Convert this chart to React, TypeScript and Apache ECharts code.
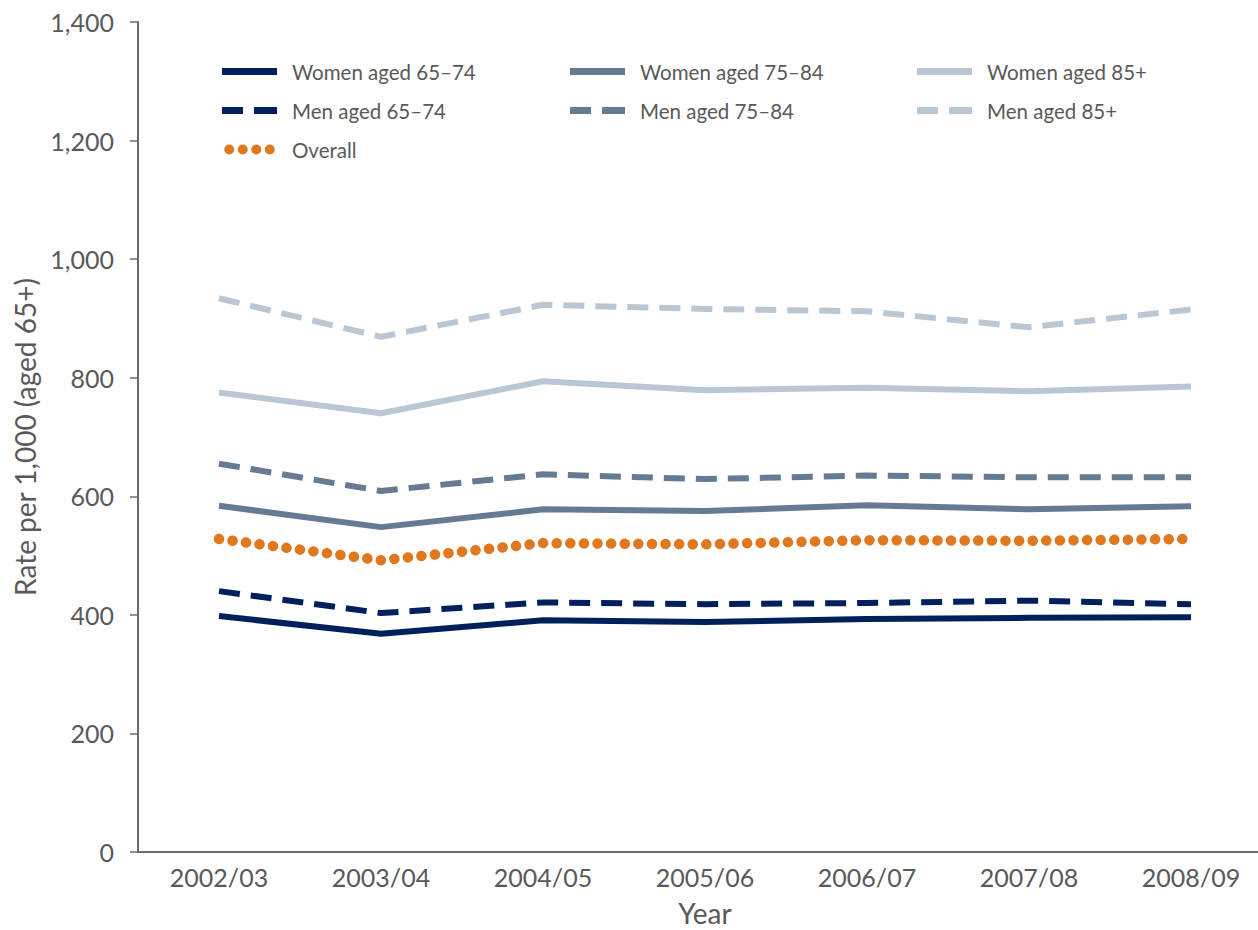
import React, { useEffect, useRef } from "react";
import * as echarts from "echarts";

const categories = ["2002/03", "2003/04", "2004/05", "2005/06", "2006/07", "2007/08", "2008/09"];
const women6574 = [398, 368, 391, 388, 393, 395, 396];
const men6574 = [440, 403, 421, 418, 420, 424, 418];
const overall = [528, 492, 521, 519, 526, 525, 528];
const women7584 = [584, 548, 578, 575, 585, 578, 583];
const men7584 = [655, 609, 637, 629, 635, 632, 632];
const women85 = [775, 740, 794, 779, 783, 777, 785];
const men85 = [934, 869, 923, 916, 912, 885, 915];

const NAVY = "#00205b";
const MID = "#657a93";
const LIGHT = "#b9c7d5";
const ORANGE = "#e0781f";
const TEXT = "#595959";
const AXIS = "#6b6b6b";
const FONT = "Lato";

const ICON_SOLID = "path://M0,1.5H55V8.5H0Z";
const ICON_DASH = "path://M0,1.5H21V8.5H0Z M32,1.5H55V8.5H32Z";
const ICON_DOTS =
  "path://M0,5a5,5 0 1,0 10,0a5,5 0 1,0 -10,0Z M13.5,5a5,5 0 1,0 10,0a5,5 0 1,0 -10,0Z M27,5a5,5 0 1,0 10,0a5,5 0 1,0 -10,0Z M40.5,5a5,5 0 1,0 10,0a5,5 0 1,0 -10,0Z";

export default function App() {
  const ref = useRef<HTMLDivElement>(null);
  useEffect(() => {
    if (!ref.current) return;
    const chart = echarts.init(ref.current, undefined, { renderer: "svg" });
    const line = (name: string, data: number[], color: string, type: any, width = 6, cap: any = "butt") => ({
      name,
      type: "line",
      data,
      symbol: "none",
      lineStyle: { color, width, type, cap },
      itemStyle: { color },
    });
    const dashed = [21, 11];
    const dotted = [0.1, 13.5];
    const legendBase = {
      orient: "vertical" as const,
      top: 56,
      itemWidth: 55,
      itemHeight: 10,
      itemGap: 18,
      itemStyle: { borderWidth: 0 },
      textStyle: { color: TEXT, fontSize: 20.5, fontFamily: FONT, padding: [0, 0, 0, 10] },
    };
    chart.setOption({
      animation: false,
      grid: { left: 138, top: 22, right: -14, bottom: 78, outerBoundsMode: "none" },
      legend: [
        {
          ...legendBase,
          left: 217,
          data: [
            { name: "Women aged 65\u201374", icon: ICON_SOLID },
            { name: "Men aged 65\u201374", icon: ICON_DASH },
            { name: "Overall", icon: ICON_DOTS },
          ],
        },
        {
          ...legendBase,
          left: 565,
          data: [
            { name: "Women aged 75\u201384", icon: ICON_SOLID },
            { name: "Men aged 75\u201384", icon: ICON_DASH },
          ],
        },
        {
          ...legendBase,
          left: 912,
          data: [
            { name: "Women aged 85+", icon: ICON_SOLID },
            { name: "Men aged 85+", icon: ICON_DASH },
          ],
        },
      ],
      xAxis: {
        type: "category",
        data: categories,
        boundaryGap: true,
        name: "Year",
        nameLocation: "middle",
        nameGap: 47,
        nameTextStyle: { color: TEXT, fontSize: 28, fontFamily: FONT },
        axisLine: { lineStyle: { color: AXIS, width: 2 } },
        axisTick: { length: 14, lineStyle: { color: AXIS, width: 1.5 } },
        axisLabel: { color: TEXT, fontSize: 25, fontFamily: FONT, margin: 12 },
      },
      yAxis: {
        type: "value",
        min: 0,
        max: 1400,
        interval: 200,
        name: "Rate per 1,000 (aged 65+)",
        nameLocation: "middle",
        nameGap: 98,
        nameRotate: 90,
        nameTextStyle: { color: TEXT, fontSize: 28, fontFamily: FONT },
        axisLine: { show: true, lineStyle: { color: AXIS, width: 2 } },
        axisTick: { show: true, length: 8, lineStyle: { color: AXIS, width: 1.5 } },
        splitLine: { show: false },
        axisLabel: {
          color: TEXT,
          fontSize: 25,
          fontFamily: FONT,
          margin: 24,
          formatter: (v: number) => v.toLocaleString("en-US"),
        },
      },
      series: [
        line("Women aged 65\u201374", women6574, NAVY, "solid"),
        line("Men aged 65\u201374", men6574, NAVY, dashed),
        line("Overall", overall, ORANGE, dotted, 10.5, "round"),
        line("Women aged 75\u201384", women7584, MID, "solid"),
        line("Men aged 75\u201384", men7584, MID, dashed),
        line("Women aged 85+", women85, LIGHT, "solid"),
        line("Men aged 85+", men85, LIGHT, dashed),
      ],
    });
    return () => chart.dispose();
  }, []);
  return (
    <div
      ref={ref}
      style={{ position: "fixed", left: 0, top: 0, width: 1258, height: 930, background: "#fff" }}
    />
  );
}
